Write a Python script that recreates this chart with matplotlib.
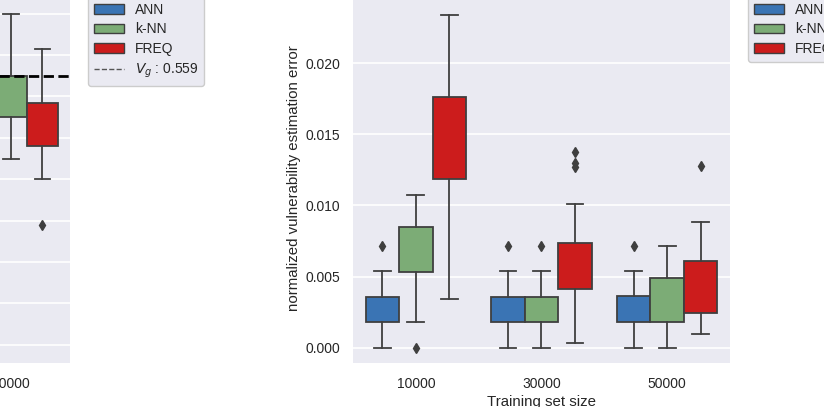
import matplotlib
matplotlib.use('Agg')
import matplotlib.pyplot as plt
from matplotlib.patches import Patch
from matplotlib.lines import Line2D

plt.rcParams['font.family'] = ['Liberation Sans', 'DejaVu Sans']
plt.rcParams['font.size'] = 10

# datos
sizes = ['10000', '30000', '50000']
metodos = ['ANN', 'k-NN', 'FREQ']
colores = ['#3a74b4', '#7cac76', '#cc1c1c']

# error normalizado (panel derecho)
ann_q1 = [0.00178, 0.00178, 0.00180]
ann_q3 = [0.00359, 0.00359, 0.00362]
ann_lo = [0.0, 0.0, 0.0]
ann_hi = [0.00536, 0.00536, 0.00537]
ann_out = [[0.00715], [0.00715], [0.00713]]

knn_q1 = [0.00534, 0.00178, 0.00178]
knn_q3 = [0.00851, 0.00359, 0.00492]
knn_lo = [0.00178, 0.0, 0.0]
knn_hi = [0.01074, 0.00536, 0.00716]
knn_out = [[0.0], [0.00715], []]

freq_q1 = [0.01186, 0.00413, 0.00244]
freq_q3 = [0.01765, 0.00738, 0.00608]
freq_lo = [0.00345, 0.00031, 0.00096]
freq_hi = [0.02342, 0.01011, 0.00886]
freq_out = [[], [0.01269, 0.01297, 0.01378], [0.01278]]

# vulnerabilidad estimada (panel izquierdo, solo lo visible del grupo 50000)
izq_knn = dict(q1=0.5570, q3=0.5590, lo=0.5550, hi=0.5620, out=[])
izq_freq = dict(q1=0.5556, q3=0.5577, lo=0.5540, hi=0.5603, out=[0.5518])
V_g = 0.559

ancho = 0.8 / 3
offsets = [-ancho, 0.0, ancho]
borde = '#3f3f3f'


def stats(q1, q3, lo, hi, out):
    return {'q1': q1, 'q3': q3, 'med': q1, 'whislo': lo, 'whishi': hi, 'fliers': out}


def dibujar(ax, lista, pos, color):
    ax.bxp(lista, positions=pos, widths=ancho, patch_artist=True,
           boxprops=dict(facecolor=color, edgecolor=borde, linewidth=1.3),
           whiskerprops=dict(color=borde, linewidth=1.3),
           capprops=dict(color=borde, linewidth=1.3),
           medianprops=dict(linewidth=0),
           flierprops=dict(marker='d', markerfacecolor=borde, markeredgecolor=borde, markersize=5))


def estilo(ax):
    ax.set_facecolor('#EAEAF2')
    ax.grid(True, axis='y', color='white', linewidth=1.2)
    ax.set_axisbelow(True)
    for s in ax.spines.values():
        s.set_visible(False)
    ax.tick_params(length=0, colors='.15', labelsize=10)
    ax.tick_params(axis='y', pad=9)
    ax.tick_params(axis='x', pad=10)


fig = plt.figure(figsize=(8.24, 4.07), dpi=100)

# panel izquierdo (recortado)
ax1 = fig.add_axes([-0.3447, 0.1081, 0.4296, 0.9066])
estilo(ax1)
dibujar(ax1, [stats(izq_knn['q1'], izq_knn['q3'], izq_knn['lo'], izq_knn['hi'], izq_knn['out'])],
        [2 + offsets[1]], colores[1])
dibujar(ax1, [stats(izq_freq['q1'], izq_freq['q3'], izq_freq['lo'], izq_freq['hi'], izq_freq['out'])],
        [2 + offsets[2]], colores[2])
ax1.axhline(V_g, color='black', linestyle='--', linewidth=2)
ax1.set_xlim(-0.5, 2.5)
ax1.set_ylim(0.54512, 0.56295)
ax1.set_yticks([0.546, 0.548, 0.550, 0.552, 0.554, 0.556, 0.558, 0.560, 0.562])
ax1.set_xticks(range(3))
ax1.set_xticklabels(sizes)

# panel derecho
ax2 = fig.add_axes([0.4284, 0.1081, 0.4575, 0.9066])
estilo(ax2)
datos = [
    (ann_q1, ann_q3, ann_lo, ann_hi, ann_out),
    (knn_q1, knn_q3, knn_lo, knn_hi, knn_out),
    (freq_q1, freq_q3, freq_lo, freq_hi, freq_out),
]
for m, (q1, q3, lo, hi, out) in enumerate(datos):
    lista = [stats(q1[i], q3[i], lo[i], hi[i], out[i]) for i in range(len(sizes))]
    pos = [i + offsets[m] for i in range(len(sizes))]
    dibujar(ax2, lista, pos, colores[m])
ax2.set_xlim(-0.5, 2.5)
ax2.set_ylim(-0.001076, 0.02487)
ax2.set_yticks([0.0, 0.005, 0.010, 0.015, 0.020])
ax2.set_yticklabels(['0.000', '0.005', '0.010', '0.015', '0.020'])
ax2.set_xticks(range(3))
ax2.set_xticklabels(sizes)
ax2.set_xlabel('Training set size', color='.15', fontsize=10.8, labelpad=3)
ax2.set_ylabel('normalized vulnerability estimation error', color='.15', fontsize=10.8, labelpad=3)

# leyendas
manijas = [Patch(facecolor=colores[i], edgecolor=borde, label=metodos[i]) for i in range(3)]
manija_vg = Line2D([], [], color='#555555', linestyle='--', linewidth=1, label='$V_g$ : 0.559')

leg_kw = dict(loc='upper left', bbox_transform=fig.transFigure, borderaxespad=0,
              facecolor='#EAEAF2', edgecolor='0.8', labelspacing=0.42, handlelength=2.2,
              fancybox=True, framealpha=1, fontsize=10)
l1 = fig.legend(handles=manijas + [manija_vg], bbox_to_anchor=(88 / 824, 1.0074), **leg_kw)
l2 = fig.legend(handles=manijas, bbox_to_anchor=(748 / 824, 1.0074), **leg_kw)
for l in (l1, l2):
    for t in l.get_texts():
        t.set_color('.15')

plt.savefig('out.png', dpi=100)
